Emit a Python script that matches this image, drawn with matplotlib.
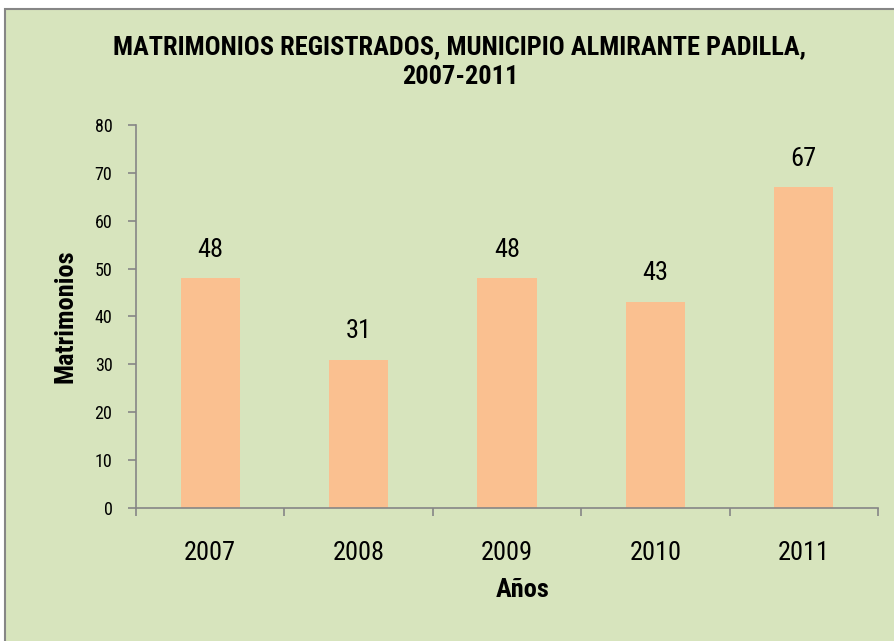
import matplotlib
matplotlib.use("Agg")
import matplotlib.pyplot as plt
from matplotlib.patches import Rectangle
from matplotlib import font_manager as fm

years = ["2007", "2008", "2009", "2010", "2011"]
values = [48, 31, 48, 43, 67]
yticks = [0, 10, 20, 30, 40, 50, 60, 70, 80]

names = {f.name for f in fm.fontManager.ttflist}
fam = "DejaVu Sans"
for cand in ["Roboto Condensed", "Liberation Sans Narrow", "Arial Narrow"]:
    if cand in names:
        fam = cand
        break
plt.rcParams['font.family'] = [fam, 'DejaVu Sans']
plt.rcParams['font.stretch'] = 'condensed'

GREEN = "#D7E4BD"
BAR = "#FAC090"
GRAY = "#868686"

W, H = 895, 641
fig = plt.figure(figsize=(W / 100, H / 100), dpi=100, facecolor="white")
bg = Rectangle((5 / W, -0.05), 1.1, (H - 9) / H + 0.05, transform=fig.transFigure,
               facecolor=GREEN, edgecolor=GRAY, linewidth=1.5, zorder=-10)
fig.patches.append(bg)

ax = fig.add_axes([136 / W, (H - 508) / H, (878 - 136) / W, (508 - 125) / H])
ax.set_facecolor("none")
x = list(range(len(years)))
ax.bar(x, values, width=0.4, color=BAR, zorder=2)
ax.set_xlim(-0.5, len(years) - 0.5)
ax.set_ylim(0, 80)
ax.set_yticks(yticks)
ax.set_yticklabels([str(v) for v in yticks], fontsize=13)
ax.set_xticks(x)
ax.set_xticklabels(years, fontsize=19)
ax.set_xticks([i - 0.5 for i in range(len(years) + 1)], minor=True)
ax.tick_params(axis='x', which='major', length=0, pad=24)
ax.tick_params(axis='x', which='minor', length=6, color=GRAY, width=1.2, direction='out')
ax.tick_params(axis='y', length=6, color=GRAY, width=1.2, pad=11)
for s in ("top", "right"):
    ax.spines[s].set_visible(False)
for s in ("left", "bottom"):
    ax.spines[s].set_color(GRAY)
    ax.spines[s].set_linewidth(1.2)

for xi, v in zip(x, values):
    ax.annotate(str(v), (xi, v), xytext=(0, 12), textcoords="offset points",
                ha="center", va="bottom", fontsize=19)

ax.set_ylabel("Matrimonios", fontsize=19, fontweight="bold", labelpad=12)
fig.text(523 / W, 1 - 590 / H, "Años", ha="center", va="center", fontsize=19, fontweight="bold")
fig.text(460 / W, 1 - 62 / H, "MATRIMONIOS REGISTRADOS, MUNICIPIO ALMIRANTE PADILLA,\n2007-2011",
         ha="center", va="center", fontsize=19, fontweight="bold", linespacing=1.3)

fig.savefig("out.png", dpi=100, facecolor="white")
